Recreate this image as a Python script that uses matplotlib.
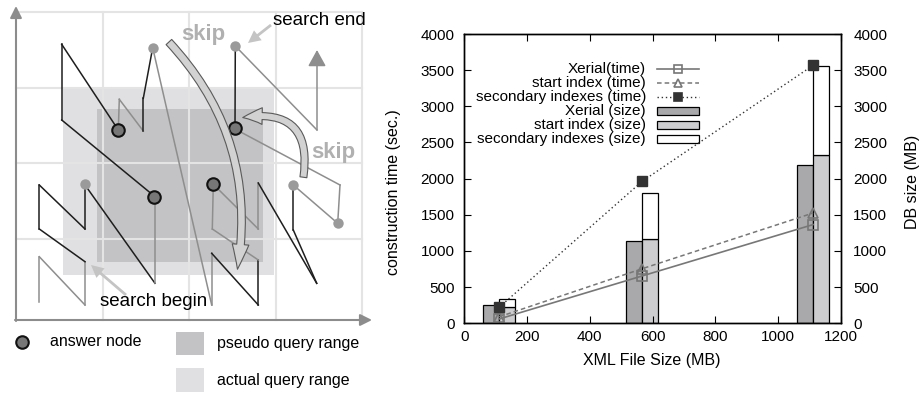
import matplotlib
matplotlib.use('Agg')
import matplotlib.pyplot as plt
from matplotlib.patches import Rectangle, FancyArrowPatch

plt.rcParams['font.family'] = ['Liberation Sans', 'DejaVu Sans']

# ---- right chart data
file_size = [111, 567, 1112]
xerial_time = [60, 655, 1365]
start_time = [90, 755, 1525]
secondary_time = [221, 1963, 3567]
xerial_size = [253, 1138, 2189]
start_size = [221, 1161, 2323]
secondary_size = [120, 641, 1239]   # stacked on top of start index
x_ticks = [0, 200, 400, 600, 800, 1000, 1200]
y_ticks = [0, 500, 1000, 1500, 2000, 2500, 3000, 3500, 4000]
legend_labels = ['Xerial(time)', 'start index (time)', 'secondary indexes (time)',
                 'Xerial (size)', 'start index (size)', 'secondary indexes (size)']

# ---- left sketch data (image pixel units, y grows downward)
grid_x = [16, 103, 189, 276, 362]
grid_y = [12, 88, 163, 239, 320]
actual_range = [62.7, 87, 274, 275]      # x0, y0, x1, y1
pseudo_range = [96.7, 109, 263, 262]
path_x = [39.3, 39.3, 85, 85, 39.3, 39.3, 85, 85, 155, 155, 61.7, 61.7, 118.3,
          119.3, 143.3, 143.3, 152.7, 211.7, 211.7, 258.3, 258.3, 212.3, 213.3,
          258.3, 258.3, 316.7, 293.3, 293.3, 337.7, 340, 235, 235.3, 317, 317]
path_y = [301.7, 256.7, 305, 261.7, 229, 185, 229, 185, 283.3, 196.7, 120, 44.3,
          130, 99.3, 131, 98.3, 47.7, 305, 253.3, 305, 260, 229, 184.3, 229, 183,
          283.3, 230, 185, 223.3, 185, 129, 46, 130, 50]
seg_dark = [0, 0, 0, 1, 1, 1, 1, 1, 0, 1, 1, 1, 0, 0, 1, 1, 0, 0, 1, 1, 0, 0,
            0, 0, 1, 1, 1, 0, 0, 0, 1, 0, 0]
answer_x = [118.3, 154.3, 213.3, 235]
answer_y = [130, 196.7, 184.3, 128.3]
other_x = [152.7, 235.3, 85.3, 292.7, 337.7]
other_y = [47.7, 46, 184, 185.3, 223.3]

fig = plt.figure(figsize=(9.2, 3.94), dpi=100)

# ================= left: Z-order search sketch
sk = fig.add_axes([0, 0, 380 / 920, 1])
sk.set_xlim(0, 380)
sk.set_ylim(394, 0)
sk.axis('off')

sk.add_patch(Rectangle((actual_range[0], actual_range[1]),
                       actual_range[2] - actual_range[0], actual_range[3] - actual_range[1],
                       fc='#e0e0e2', ec='none', zorder=0))
sk.add_patch(Rectangle((pseudo_range[0], pseudo_range[1]),
                       pseudo_range[2] - pseudo_range[0], pseudo_range[3] - pseudo_range[1],
                       fc='#c3c3c5', ec='none', zorder=0))
for gx in grid_x[1:]:
    sk.plot([gx, gx], [grid_y[0], grid_y[-1]], color='#e4e4e4', lw=1.5, zorder=1)
for gy in grid_y[:-1]:
    sk.plot([grid_x[0], grid_x[-1]], [gy, gy], color='#e4e4e4', lw=1.5, zorder=1)

# axes arrows
sk.annotate('', xy=(grid_x[0], 6), xytext=(grid_x[0], grid_y[-1] + 1),
            arrowprops=dict(arrowstyle='-|>,head_width=0.35,head_length=0.7',
                            color='#8c8c8c', lw=1.5, shrinkA=0, shrinkB=0), zorder=2)
sk.annotate('', xy=(372, grid_y[-1]), xytext=(grid_x[0] - 1, grid_y[-1]),
            arrowprops=dict(arrowstyle='-|>,head_width=0.35,head_length=0.7',
                            color='#8c8c8c', lw=1.5, shrinkA=0, shrinkB=0), zorder=2)

# curve
for i in range(len(path_x) - 2):
    sk.plot(path_x[i:i + 2], path_y[i:i + 2],
            color='#1e1e1e' if seg_dark[i] else '#8e8e8e', lw=1.1, zorder=2)
sk.annotate('', xy=(path_x[-1], path_y[-1]), xytext=(path_x[-2], path_y[-2]),
            arrowprops=dict(arrowstyle='-|>,head_width=0.55,head_length=1.0',
                            color='#8e8e8e', lw=1.1, shrinkA=0, shrinkB=0), zorder=2)

sk.plot(other_x, other_y, 'o', ms=7.5, color='#9a9a9a', mec='none', zorder=3)
sk.plot(answer_x, answer_y, 'o', ms=9, mfc='#777777', mec='#111111', mew=1.5, zorder=3)

# skip arrows
sk.add_patch(FancyArrowPatch((167, 40), (237, 272), connectionstyle='arc3,rad=-0.25',
                             arrowstyle='simple,head_length=1.8,head_width=1.2,tail_width=0.55',
                             mutation_scale=10, fc='#d2d2d2', ec='#5a5a5a', lw=0.8, zorder=4))
sk.add_patch(FancyArrowPatch((303, 180), (240, 118), connectionstyle='arc3,rad=0.7',
                             arrowstyle='simple,head_length=1.4,head_width=1.2,tail_width=0.5',
                             mutation_scale=10, fc='#d2d2d2', ec='#5a5a5a', lw=0.8, zorder=4))
sk.text(203.5, 34, 'skip', fontsize=16, fontweight='bold', color='#b0b0b0',
        ha='center', va='center', zorder=5)
sk.text(333, 152, 'skip', fontsize=16, fontweight='bold', color='#b0b0b0',
        ha='center', va='center', zorder=5)

# search labels
sk.text(273, 20, 'search end', fontsize=13.5, ha='left', va='center', zorder=5)
sk.annotate('', xy=(248, 43), xytext=(271, 25),
            arrowprops=dict(arrowstyle='simple,head_width=0.9,head_length=0.9,tail_width=0.2',
                            fc='#c4c4c4', ec='none', shrinkA=0, shrinkB=0), zorder=5)
sk.text(100, 302, 'search begin', fontsize=13.5, ha='left', va='center', zorder=5)
sk.annotate('', xy=(91, 265), xytext=(126, 295),
            arrowprops=dict(arrowstyle='simple,head_width=0.9,head_length=0.9,tail_width=0.2',
                            fc='#c4c4c4', ec='none', shrinkA=0, shrinkB=0), zorder=5)

# sketch legend
sk.plot([21.7], [341.7], 'o', ms=9, mfc='#777777', mec='#111111', mew=1.5)
sk.text(50, 341.7, 'answer node', fontsize=11.5, va='center')
sk.add_patch(Rectangle((176, 331.7), 28, 23.3, fc='#c3c3c5', ec='none'))
sk.text(216.7, 343.3, 'pseudo query range', fontsize=11.5, va='center')
sk.add_patch(Rectangle((176, 368.3), 28, 23.3, fc='#e0e0e2', ec='none'))
sk.text(216.7, 380, 'actual query range', fontsize=11.5, va='center')

# ================= right: construction time / DB size chart
ax = fig.add_axes([0.5047, 0.1794, 0.4091, 0.7343])
ax2 = ax.twinx()

ax2.bar([x - 25 for x in file_size], xerial_size, width=50,
        color='#a9a9ab', edgecolor='black', lw=0.9)
ax2.bar([x + 25 for x in file_size], start_size, width=50,
        color='#cdcdcf', edgecolor='black', lw=0.9)
ax2.bar([x + 25 for x in file_size], secondary_size, width=50, bottom=start_size,
        color='white', edgecolor='black', lw=0.9)

ax.set_zorder(ax2.get_zorder() + 1)
ax.patch.set_visible(False)

ax.plot(file_size, xerial_time, color='#777777', lw=1.2, marker='s', ms=7,
        mfc='none', mec='#777777', mew=1.2)
ax.plot(file_size, start_time, color='#777777', lw=1.1, ls=(0, (3, 2)), marker='^',
        ms=7, mfc='none', mec='#777777', mew=1.2)
ax.plot(file_size, secondary_time, color='#333333', lw=1.0, ls=(0, (1, 2)), marker='s',
        ms=7, mfc='#333333', mec='#333333')

for a in (ax, ax2):
    a.set_xlim(0, 1200)
    a.set_ylim(0, 4000)
    a.set_yticks(y_ticks)
    for s in a.spines.values():
        s.set_linewidth(1.0)
ax.set_xticks(x_ticks)
ax.tick_params(direction='in', length=5, top=True, right=False, labelsize=11)
ax.tick_params(axis='y', pad=7)
ax.tick_params(axis='x', pad=5)
ax2.tick_params(direction='in', length=5, labelsize=11, pad=9)

ax.set_xlabel('XML File Size (MB)', fontsize=11.5)
ax.xaxis.set_label_coords(0.4987, -0.103)
ax.set_ylabel('construction time (sec.)', fontsize=11.5)
ax.yaxis.set_label_coords(-0.168, 0.452)
ax2.set_ylabel('DB size (MB)', fontsize=11.5)
ax2.yaxis.set_label_coords(1.172, 0.49)

# gnuplot-style legend: text right aligned, sample on the right
row_y = [0.878, 0.8297, 0.7813, 0.733, 0.6846, 0.6362]
tx, s0, s1 = 0.4827, 0.5124, 0.6233
line_styles = [dict(color='#777777', lw=1.2, ls='-', marker='s', mfc='none', mec='#777777'),
               dict(color='#777777', lw=1.1, ls=(0, (3, 2)), marker='^', mfc='none', mec='#777777'),
               dict(color='#333333', lw=1.0, ls=(0, (1, 2)), marker='s', mfc='#333333', mec='#333333')]
bar_colors = ['#a9a9ab', '#cdcdcf', 'white']
for i, lab in enumerate(legend_labels):
    ax.text(tx, row_y[i], lab, transform=ax.transAxes, ha='right', va='center', fontsize=11)
    if i < 3:
        ax.plot([s0, s1], [row_y[i], row_y[i]], transform=ax.transAxes, **line_styles[i])
        ax.lines[-1].set_markevery([])
        ax.plot([(s0 + s1) / 2], [row_y[i]], transform=ax.transAxes, ms=6, mew=1.2,
                **{k: v for k, v in line_styles[i].items() if k not in ('ls', 'lw')}, ls='none')
    else:
        ax.add_patch(Rectangle((s0, row_y[i] - 0.014), s1 - s0, 0.028, transform=ax.transAxes,
                               fc=bar_colors[i - 3], ec='black', lw=0.9))

fig.savefig('out.png', dpi=100)
